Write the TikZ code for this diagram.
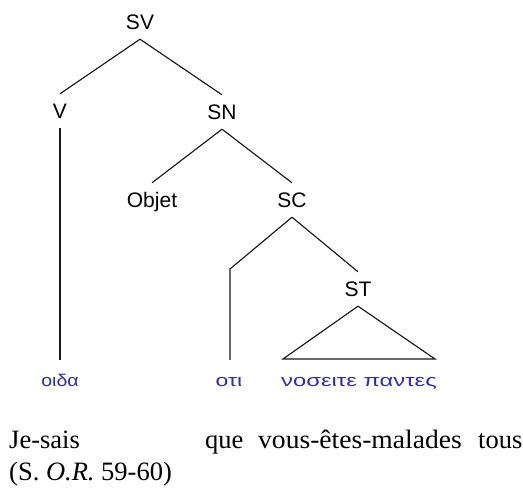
\documentclass[tikz,border=0pt]{standalone}
\usepackage{fontspec}
\setmainfont{Liberation Serif}
\newfontfamily\labfont{Liberation Sans}
\definecolor{greekblue}{RGB}{45,45,165}
\begin{document}
\begin{tikzpicture}[x=1pt,y=-1pt,
  lab/.style={font=\labfont\fontsize{21}{25}\selectfont, inner sep=0pt, text height=15pt, text depth=0pt, minimum height=34pt},
  leaf/.style={font=\labfont\fontsize{17}{21}\selectfont, text=greekblue, inner sep=0pt, text height=9pt, text depth=0pt, minimum height=44pt},
  branch/.style={draw=black!90, line width=1.15pt},
  gloss/.style={font=\fontsize{26.5}{31}\selectfont, inner sep=0pt, anchor=base west}]
\useasboundingbox (0,0) rectangle (523,492);
\node[lab] (SV) at (140,22) {SV};
\node[lab] (V) at (60,111) {V};
\node[lab] (SN) at (222,112) {SN};
\node[lab] (Objet) at (152,200) {Objet};
\node[lab] (SC) at (292,200) {SC};
\node[lab] (ST) at (358,289) {ST};
\node[leaf] (oida) at (60,382) {\scalebox{1.15}[1]{οιδα}};
\node[leaf] (oti) at (229,382) {\scalebox{1.35}[1]{οτι}};
\node[leaf] (nos) at (359,382) {\scalebox{1.4}[1]{νοσειτε παντες}};
\coordinate (bend) at (230,269);
\coordinate (tl) at (283,359);
\coordinate (tr) at (435,359);
\draw[branch] (SV.south) -- (V.north);
\draw[branch] (SV.south) -- (SN.north);
\draw[branch] (SN.south) -- (Objet.north);
\draw[branch] (SN.south) -- (SC.north);
\draw[branch] (V.south) -- (oida.north);
\draw[branch] (SC.south) -- (bend) -- (oti.north -| bend);
\draw[branch] (SC.south) -- (ST.north);
\draw[branch] (ST.south) -- (tl) -- (tr) -- cycle;
\node[gloss] (g1) at (9,448) {Je-sais};
\node[gloss] (g2) at (205,448) {que};
\node[gloss] (g3) at (258,448) {\scalebox{1.04}[1]{vous-êtes-malades}};
\node[gloss] (g4) at (478,448) {tous};
\node[gloss] (src) at (9,480) {(S. \textit{O.R.} 59-60)};
\end{tikzpicture}
\end{document}
